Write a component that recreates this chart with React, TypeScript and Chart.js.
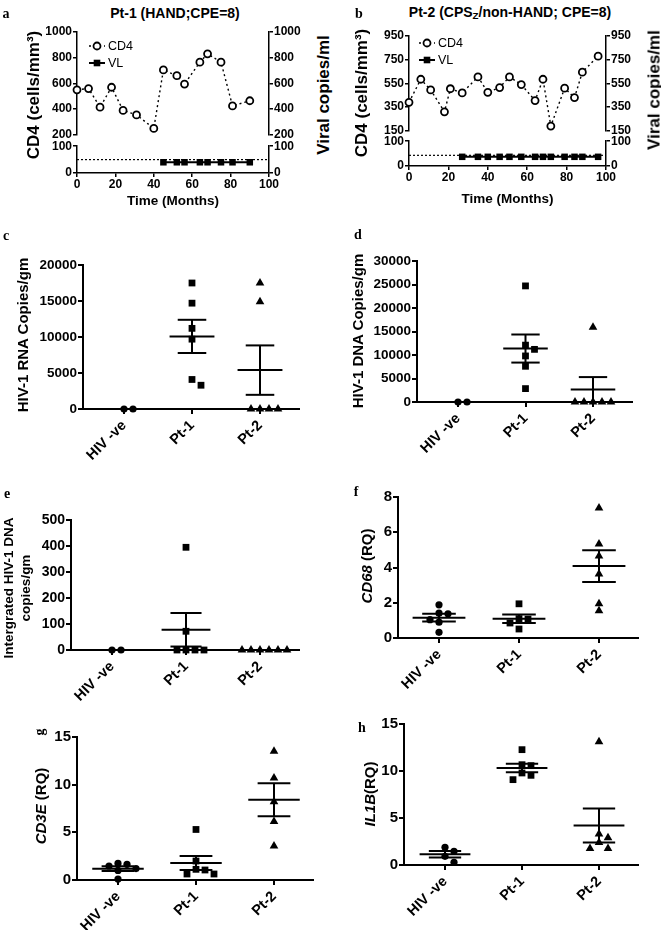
import React, { useEffect, useRef } from 'react';
import { Chart, registerables } from 'chart.js';

Chart.register(...registerables);
const FONT = '"Liberation Sans", Arial, Helvetica, sans-serif';
const SERIF = '"Liberation Serif", "DejaVu Serif", serif';
Chart.defaults.font.family = FONT;
Chart.defaults.color = '#000';

// ---------- Panel a : Pt-1 ----------
const A_CD4_MONTHS = [0, 6, 12, 18, 24, 31, 40, 45, 52, 56, 64, 68, 75, 81, 90];
const A_CD4_VALUES = [550, 560, 415, 570, 390, 355, 250, 705, 660, 595, 765, 830, 765, 425, 465];
const A_VL_MONTHS = [45, 52, 56, 64, 68, 75, 81, 90];
const A_VL_VALUES = [40, 40, 40, 40, 40, 40, 40, 40];
const A_VL_LIMIT = 50;
const A_CD4_TICKS = [200, 400, 600, 800, 1000];

// ---------- Panel b : Pt-2 ----------
const B_CD4_MONTHS = [0, 6, 11, 18, 21, 27, 35, 40, 46, 51, 57, 64, 68, 72, 79, 84, 88, 96];
const B_CD4_VALUES = [390, 585, 495, 310, 505, 470, 605, 475, 515, 605, 540, 405, 585, 190, 510, 430, 645, 780];
const B_VL_MONTHS = [27, 35, 40, 46, 51, 57, 64, 68, 72, 79, 84, 88, 96];
const B_VL_VALUES = [37, 37, 37, 37, 37, 37, 37, 37, 37, 37, 37, 37, 37];
const B_VL_LIMIT = 43;
const B_CD4_TICKS = [150, 350, 550, 750, 950];

const VL_TICKS = [0, 50, 100];
const MONTH_TICKS = [0, 20, 40, 60, 80, 100];

// ---------- Scatter panels ----------
const GROUPS = ['HIV -ve', 'Pt-1', 'Pt-2'];

const C_HIV_NEG = [0, 0];
const C_PT1 = [17500, 14700, 11200, 9700, 4100, 3300];
const C_PT2 = [17500, 14900, 0, 0, 0, 0];
const C_TICKS = [0, 5000, 10000, 15000, 20000];

const D_HIV_NEG = [0, 0];
const D_PT1 = [24700, 12100, 11200, 9800, 7600, 2850];
const D_PT2 = [15900, 0, 0, 0, 0, 0];
const D_TICKS = [0, 5000, 10000, 15000, 20000, 25000, 30000];

const E_HIV_NEG = [0, 0];
const E_PT1 = [395, 72, 0, 0, 0, 0];
const E_PT2 = [0, 0, 0, 0, 0, 0];
const E_TICKS = [0, 100, 200, 300, 400, 500];

const F_HIV_NEG = [1.88, 1.41, 1.37, 1.04, 0.9, 0.32];
const F_PT1 = [1.94, 1.1, 1.07, 0.85, 0.51];
const F_PT2 = [7.38, 5.33, 4.65, 3.63, 1.94, 1.54];
const F_TICKS = [0, 2, 4, 6, 8];

const G_HIV_NEG = [1.74, 1.64, 1.47, 1.2, 1.0, 0.1];
const G_PT1 = [5.3, 1.99, 1.12, 1.05, 0.63, 0.63];
const G_PT2 = [13.5, 10.7, 8.2, 6.14, 3.56];
const G_TICKS = [0, 5, 10, 15];

const H_HIV_NEG = [1.88, 1.45, 0.92, 0.28];
const H_PT1 = [12.27, 10.67, 10.57, 9.79, 9.54, 9.08];
const H_PT2 = [13.1, 3.3, 2.9, 2.4, 1.75, 1.75];
const H_TICKS = [0, 5, 10, 15];

// ---------- layout / style ----------
const SIDE_W = 40;
const PAD_TOP = 10;
const PAD_MID = 8;
const SC_YW = 70;
const SC_XH = 62;
const SC_PR = 6;
const CAT_INSET_L = 41;
const CAT_INSET_R = 39;
const STYLES = ['circle', 'rect', 'triangle'];
const RADII = [3.6, 4.8, 5];
const TIME_TICK_SIZE = 12;

const font = (size: number, weight: any = 'bold') => ({ family: FONT, size, weight });

function yAxis(position: string, ticks: number[], size: number, width: number, lw: number, tl: number) {
  return {
    type: 'linear',
    position,
    min: ticks[0],
    max: ticks[ticks.length - 1],
    afterBuildTicks: (s: any) => { s.ticks = ticks.map((v) => ({ value: v })); },
    afterFit: (s: any) => { s.width = width; },
    ticks: { callback: (v: any) => String(v), font: font(size), color: '#000', padding: 1 },
    grid: { drawOnChartArea: false, drawTicks: true, tickLength: tl, color: '#000', lineWidth: lw },
    border: { display: true, color: '#000', width: lw },
  };
}

function swarm(values: number[], pxPerUnit: number, step = 9, size = 7): number[] {
  const placed: { x: number; y: number }[] = [];
  return values.map((v) => {
    const y = v * pxPerUnit;
    for (let k = 0; k < 30; k++) {
      const off = k === 0 ? 0 : (k % 2 === 1 ? 1 : -1) * Math.ceil(k / 2) * step;
      if (!placed.some((p) => Math.abs(p.x - off) < size && Math.abs(p.y - y) < size)) {
        placed.push({ x: off, y });
        return off;
      }
    }
    return 0;
  });
}

const meanSemPlugin = {
  id: 'meanSem',
  afterDatasetsDraw(chart: any) {
    const { ctx } = chart;
    const x = chart.scales.x;
    const y = chart.scales.y;
    ctx.save();
    ctx.strokeStyle = '#000';
    ctx.lineWidth = 2;
    chart.data.datasets.forEach((ds: any, gi: number) => {
      const vals = ds.data.map((p: any) => p.y);
      const n = vals.length;
      const m = vals.reduce((a: number, b: number) => a + b, 0) / n;
      const sd = n > 1 ? Math.sqrt(vals.reduce((a: number, b: number) => a + (b - m) * (b - m), 0) / (n - 1)) : 0;
      const sem = sd / Math.sqrt(n);
      const c = gi + 1;
      const line = (x1: number, y1: number, x2: number, y2: number) => {
        ctx.beginPath();
        ctx.moveTo(x1, y1);
        ctx.lineTo(x2, y2);
        ctx.stroke();
      };
      const ym = y.getPixelForValue(m);
      line(x.getPixelForValue(c - 0.33), ym, x.getPixelForValue(c + 0.33), ym);
      if (sem > 0) {
        const yu = y.getPixelForValue(m + sem);
        const yl = y.getPixelForValue(m - sem);
        const xc = x.getPixelForValue(c);
        line(xc, yu, xc, yl);
        line(x.getPixelForValue(c - 0.21), yu, x.getPixelForValue(c + 0.21), yu);
        line(x.getPixelForValue(c - 0.21), yl, x.getPixelForValue(c + 0.21), yl);
      }
    });
    ctx.restore();
  },
};

type Box = { L: number; T: number; B: number; R: number };
type ScatterCfg = { id: string; groups: number[][]; ticks: number[]; box: Box; tickSize: number };

const SCATTERS: ScatterCfg[] = [
  { id: 'c', groups: [C_HIV_NEG, C_PT1, C_PT2], ticks: C_TICKS, box: { L: 83, T: 265, B: 409, R: 299 }, tickSize: 13.5 },
  { id: 'd', groups: [D_HIV_NEG, D_PT1, D_PT2], ticks: D_TICKS, box: { L: 417, T: 261, B: 402, R: 632 }, tickSize: 13.5 },
  { id: 'e', groups: [E_HIV_NEG, E_PT1, E_PT2], ticks: E_TICKS, box: { L: 71, T: 520, B: 650, R: 299 }, tickSize: 14 },
  { id: 'f', groups: [F_HIV_NEG, F_PT1, F_PT2], ticks: F_TICKS, box: { L: 398, T: 497, B: 638, R: 638 }, tickSize: 15 },
  { id: 'g', groups: [G_HIV_NEG, G_PT1, G_PT2], ticks: G_TICKS, box: { L: 77, T: 737, B: 880, R: 313 }, tickSize: 15 },
  { id: 'h', groups: [H_HIV_NEG, H_PT1, H_PT2], ticks: H_TICKS, box: { L: 404, T: 724, B: 865, R: 638 }, tickSize: 15 },
];

function ScatterPanel({ cfg }: { cfg: ScatterCfg }) {
  const ref = useRef<HTMLCanvasElement>(null);
  const { L, T, B, R } = cfg.box;
  const w = SC_YW + (R - L) + SC_PR;
  const h = PAD_TOP + (B - T) + SC_XH;
  useEffect(() => {
    const plotW = R - L;
    const plotH = B - T;
    const spacing = (plotW - CAT_INSET_L - CAT_INSET_R) / 2;
    const xMin = 1 - CAT_INSET_L / spacing;
    const xMax = 3 + CAT_INSET_R / spacing;
    const yMax = cfg.ticks[cfg.ticks.length - 1];
    const datasets = cfg.groups.map((vals, gi) => {
      const offs = swarm(vals, plotH / yMax);
      return {
        label: GROUPS[gi],
        data: vals.map((v, i) => ({ x: gi + 1 + offs[i] / spacing, y: v })),
        pointStyle: STYLES[gi],
        pointRadius: RADII[gi],
        backgroundColor: '#000',
        borderColor: '#000',
        pointBorderWidth: 0,
        clip: false,
      };
    });
    const chart = new Chart(ref.current as HTMLCanvasElement, {
      type: 'scatter',
      data: { datasets } as any,
      plugins: [meanSemPlugin],
      options: {
        animation: false,
        responsive: false,
        events: [],
        layout: { padding: { top: PAD_TOP, right: SC_PR, left: 0, bottom: 0 } },
        plugins: { legend: { display: false }, tooltip: { enabled: false } },
        scales: {
          x: {
            type: 'linear',
            min: xMin,
            max: xMax,
            afterBuildTicks: (s: any) => { s.ticks = GROUPS.map((_, i) => ({ value: i + 1 })); },
            afterFit: (s: any) => { s.height = SC_XH; },
            ticks: {
              callback: (v: any) => GROUPS[Math.round(v) - 1] ?? '',
              font: font(14.5),
              color: '#000',
              minRotation: 45,
              maxRotation: 45,
              autoSkip: false,
              padding: 3,
            },
            grid: { drawOnChartArea: false, drawTicks: true, tickLength: 5, color: '#000', lineWidth: 2 },
            border: { display: true, color: '#000', width: 2 },
          },
          y: yAxis('left', cfg.ticks, cfg.tickSize, SC_YW, 2, 5),
        } as any,
      },
    });
    return () => chart.destroy();
  }, []);
  return (
    <canvas ref={ref} width={w} height={h}
      style={{ position: 'absolute', left: L - SC_YW, top: T - PAD_TOP, width: w, height: h }} />
  );
}

type TimeCfg = {
  months: number[]; cd4: number[]; vlMonths: number[]; vl: number[]; limit: number; cd4Ticks: number[];
  box: { L: number; R: number; T1: number; B1: number; T2: number; B2: number; xAxisH: number };
  legend: { dx: number; dy: number; gap: number };
};

const A_CFG: TimeCfg = {
  months: A_CD4_MONTHS, cd4: A_CD4_VALUES, vlMonths: A_VL_MONTHS, vl: A_VL_VALUES, limit: A_VL_LIMIT, cd4Ticks: A_CD4_TICKS,
  box: { L: 77, R: 269, T1: 32, B1: 135, T2: 146, B2: 173, xAxisH: 36 },
  legend: { dx: 20, dy: 14, gap: 17 },
};
const B_CFG: TimeCfg = {
  months: B_CD4_MONTHS, cd4: B_CD4_VALUES, vlMonths: B_VL_MONTHS, vl: B_VL_VALUES, limit: B_VL_LIMIT, cd4Ticks: B_CD4_TICKS,
  box: { L: 409, R: 606, T1: 36, B1: 131, T2: 141, B2: 166, xAxisH: 41 },
  legend: { dx: 18, dy: 7, gap: 17 },
};

function legendPlugin(pos: { dx: number; dy: number; gap: number }) {
  return {
    id: 'sampleLegend',
    afterDraw(chart: any) {
      const { ctx, chartArea } = chart;
      const items = [
        { text: 'CD4', dash: [2, 3], lw: 1.4, open: true },
        { text: 'VL', dash: [], lw: 2, open: false },
      ];
      ctx.save();
      items.forEach((it, i) => {
        const cx = chartArea.left + pos.dx;
        const cy = chartArea.top + pos.dy + i * pos.gap;
        ctx.strokeStyle = '#000';
        ctx.setLineDash(it.dash);
        ctx.lineWidth = it.lw;
        ctx.beginPath();
        ctx.moveTo(cx - 8, cy);
        ctx.lineTo(cx + 8, cy);
        ctx.stroke();
        ctx.setLineDash([]);
        if (it.open) {
          ctx.beginPath();
          ctx.arc(cx, cy, 3.5, 0, Math.PI * 2);
          ctx.fillStyle = '#fff';
          ctx.fill();
          ctx.lineWidth = 1.8;
          ctx.stroke();
        } else {
          ctx.fillStyle = '#000';
          ctx.fillRect(cx - 3.3, cy - 3.3, 6.6, 6.6);
        }
        ctx.fillStyle = '#000';
        ctx.font = `12.5px ${FONT}`;
        ctx.textBaseline = 'middle';
        ctx.textAlign = 'left';
        ctx.fillText(it.text, cx + 11, cy + 0.5);
      });
      ctx.restore();
    },
  };
}

function TimePanel({ cfg }: { cfg: TimeCfg }) {
  const topRef = useRef<HTMLCanvasElement>(null);
  const botRef = useRef<HTMLCanvasElement>(null);
  const { L, R, T1, B1, T2, B2, xAxisH } = cfg.box;
  const w = SIDE_W * 2 + (R - L);
  const h1 = PAD_TOP + (B1 - T1) + PAD_MID;
  const h2 = PAD_MID + (B2 - T2) + xAxisH;
  useEffect(() => {
    const top = new Chart(topRef.current as HTMLCanvasElement, {
      type: 'line',
      data: {
        datasets: [{
          data: cfg.months.map((m, i) => ({ x: m, y: cfg.cd4[i] })),
          borderColor: '#000', borderWidth: 1.4, borderDash: [2, 3],
          pointStyle: 'circle', pointRadius: 3.5, pointBackgroundColor: '#fff',
          pointBorderColor: '#000', pointBorderWidth: 1.8, fill: false, tension: 0, clip: false,
        }],
      } as any,
      plugins: [legendPlugin(cfg.legend)],
      options: {
        animation: false, responsive: false, events: [],
        layout: { padding: { top: PAD_TOP, bottom: PAD_MID, left: 0, right: 0 } },
        plugins: { legend: { display: false }, tooltip: { enabled: false } },
        scales: {
          x: { type: 'linear', min: MONTH_TICKS[0], max: MONTH_TICKS[MONTH_TICKS.length - 1], display: false },
          y: yAxis('left', cfg.cd4Ticks, TIME_TICK_SIZE, SIDE_W, 1.5, 4),
          y2: yAxis('right', cfg.cd4Ticks, TIME_TICK_SIZE, SIDE_W, 1.5, 4),
        } as any,
      },
    });
    const bottom = new Chart(botRef.current as HTMLCanvasElement, {
      type: 'line',
      data: {
        datasets: [
          {
            data: cfg.vlMonths.map((m, i) => ({ x: m, y: cfg.vl[i] })),
            borderColor: '#000', borderWidth: 2, pointStyle: 'rect', pointRadius: 4.6,
            pointBackgroundColor: '#000', pointBorderColor: '#000', pointBorderWidth: 0, tension: 0, clip: false,
          },
          {
            data: [{ x: MONTH_TICKS[0], y: cfg.limit }, { x: MONTH_TICKS[MONTH_TICKS.length - 1], y: cfg.limit }],
            borderColor: '#000', borderWidth: 1.2, borderDash: [2, 2], pointRadius: 0, tension: 0,
          },
        ],
      } as any,
      options: {
        animation: false, responsive: false, events: [],
        layout: { padding: { top: PAD_MID, bottom: 0, left: 0, right: 0 } },
        plugins: { legend: { display: false }, tooltip: { enabled: false } },
        scales: {
          x: {
            type: 'linear', min: MONTH_TICKS[0], max: MONTH_TICKS[MONTH_TICKS.length - 1],
            afterBuildTicks: (s: any) => { s.ticks = MONTH_TICKS.map((v) => ({ value: v })); },
            afterFit: (s: any) => { s.height = xAxisH; },
            ticks: { callback: (v: any) => String(v), font: font(TIME_TICK_SIZE), color: '#000', padding: 0, maxRotation: 0 },
            grid: { drawOnChartArea: false, drawTicks: true, tickLength: 4, color: '#000', lineWidth: 1.5 },
            border: { display: true, color: '#000', width: 1.5 },
            title: { display: true, text: 'Time (Months)', font: font(13.5), color: '#000', padding: 0 },
          },
          y: yAxis('left', VL_TICKS, TIME_TICK_SIZE, SIDE_W, 1.5, 4),
          y2: yAxis('right', VL_TICKS, TIME_TICK_SIZE, SIDE_W, 1.5, 4),
        } as any,
      },
    });
    return () => { top.destroy(); bottom.destroy(); };
  }, []);
  return (
    <>
      <canvas ref={topRef} width={w} height={h1}
        style={{ position: 'absolute', left: L - SIDE_W, top: T1 - PAD_TOP, width: w, height: h1 }} />
      <canvas ref={botRef} width={w} height={h2}
        style={{ position: 'absolute', left: L - SIDE_W, top: T2 - PAD_MID, width: w, height: h2 }} />
    </>
  );
}

function VText({ x, y, size, children, lh }: { x: number; y: number; size: number; children: any; lh?: number }) {
  return (
    <div style={{
      position: 'absolute', left: x, top: y, transform: 'translate(-50%, -50%) rotate(-90deg)',
      whiteSpace: 'nowrap', font: `bold ${size}px ${FONT}`, lineHeight: lh ? `${lh}px` : 1, textAlign: 'center',
    }}>{children}</div>
  );
}

function HText({ x, y, size, children, family = FONT, rot = false }: any) {
  return (
    <div style={{
      position: 'absolute', left: x, top: y,
      transform: `translate(-50%, -50%)${rot ? ' rotate(-90deg)' : ''}`,
      whiteSpace: 'nowrap', font: `bold ${size}px ${family}`, lineHeight: 1,
    }}>{children}</div>
  );
}

export default function App() {
  return (
    <div style={{ position: 'absolute', left: 0, top: 0, width: 661, height: 930, background: '#fff', overflow: 'hidden', color: '#000' }}>
      <TimePanel cfg={A_CFG} />
      <TimePanel cfg={B_CFG} />
      {SCATTERS.map((cfg) => <ScatterPanel key={cfg.id} cfg={cfg} />)}

      <HText x={175} y={13} size={14}>Pt-1 (HAND;CPE=8)</HText>
      <HText x={510} y={13} size={14}>Pt-2 (CPS<sub style={{ fontSize: '0.7em', verticalAlign: '-0.25em' }}>Z</sub>/non-HAND; CPE=8)</HText>

      <VText x={33} y={95} size={17}>CD4 (cells/mm³)</VText>
      <VText x={323} y={95} size={17}>Viral copies/ml</VText>
      <VText x={361} y={93} size={17}>CD4 (cells/mm³)</VText>
      <VText x={654} y={90} size={17}>Viral copies/ml</VText>

      <VText x={22} y={335} size={15}>HIV-1 RNA Copies/gm</VText>
      <VText x={357} y={331} size={15}>HIV-1 DNA Copies/gm</VText>
      <VText x={17} y={588} size={13.5} lh={17}>Intergrated HIV-1 DNA<br />copies/gm</VText>
      <VText x={366} y={566} size={15}><i>CD68</i> (RQ)</VText>
      <VText x={40} y={806} size={15}><i>CD3E</i> (RQ)</VText>
      <VText x={369} y={794} size={15}><i>IL1B</i>(RQ)</VText>

      <HText x={6} y={14} size={14} family={SERIF}>a</HText>
      <HText x={359} y={14} size={14} family={SERIF}>b</HText>
      <HText x={6} y={236} size={14} family={SERIF}>c</HText>
      <HText x={358} y={235} size={14} family={SERIF}>d</HText>
      <HText x={7} y={494} size={14} family={SERIF}>e</HText>
      <HText x={356} y={492} size={14} family={SERIF}>f</HText>
      <HText x={40} y={732} size={14} family={SERIF} rot>g</HText>
      <HText x={362} y={728} size={14} family={SERIF}>h</HText>
    </div>
  );
}
